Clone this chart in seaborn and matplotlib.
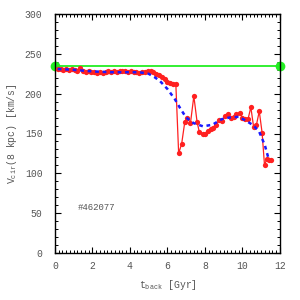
import numpy as np
import pandas as pd
import matplotlib
matplotlib.use("Agg")
import matplotlib.pyplot as plt
import seaborn as sns
from matplotlib.ticker import MultipleLocator

# measured circular velocity at 8 kpc vs lookback time
t_back = [0.15, 0.3, 0.45, 0.6, 0.75, 0.9, 1.05, 1.2, 1.35, 1.5, 1.65, 1.8, 1.95,
          2.1, 2.25, 2.4, 2.55, 2.7, 2.85, 3.0, 3.15, 3.3, 3.45, 3.6, 3.75, 3.9,
          4.05, 4.2, 4.35, 4.5, 4.65, 4.8, 4.95, 5.1, 5.25, 5.4, 5.55, 5.7, 5.85,
          6.0, 6.15, 6.3, 6.45, 6.6, 6.76, 6.93, 7.07, 7.23, 7.41, 7.58, 7.7,
          7.88, 8.0, 8.15, 8.3, 8.44, 8.6, 8.77, 8.92, 9.08, 9.22, 9.38, 9.53,
          9.68, 9.85, 10.0, 10.15, 10.3, 10.45, 10.6, 10.75, 10.9, 11.05, 11.18,
          11.3, 11.42, 11.52]
v_cir = [231, 231, 230, 231, 230, 231, 230, 229, 232, 229, 227, 228, 227,
         227, 226, 227, 226, 227, 228, 227, 228, 227, 229, 228, 228, 227,
         228, 227, 227, 226, 227, 227, 228, 228, 227, 225, 223, 221, 218,
         215, 213, 212, 212, 125, 137, 165, 170, 163, 197, 165, 152,
         149, 150, 153, 156, 157, 161, 167, 166, 172, 174, 170, 171,
         174, 176, 170, 168, 168, 183, 158, 161, 178, 151, 110,
         118, 117, 117]

# smoothed curve
t_smooth = [0.15, 1.0, 2.0, 3.0, 4.0, 4.5, 5.0, 5.3, 5.6, 6.0, 6.4, 6.7, 7.0,
            7.4, 7.9, 8.4, 8.9, 9.3, 9.8, 10.2, 10.6, 10.9, 11.2, 11.4]
v_smooth = [231, 230, 228, 227, 227, 227, 225, 221, 216, 206, 193, 181, 170,
            163, 159, 161, 168, 170, 171, 166, 160, 152, 135, 118]

# present-day reference value
t_ref = [0, 12]
v_ref = [235, 235]

meas = pd.DataFrame({"t": t_back, "v": v_cir})
smooth = pd.DataFrame({"t": t_smooth, "v": v_smooth})
ref = pd.DataFrame({"t": t_ref, "v": v_ref})

sns.set_style("ticks")
plt.rcParams["font.family"] = ["Liberation Mono", "DejaVu Sans Mono"]
plt.rcParams["mathtext.fontset"] = "custom"
plt.rcParams["mathtext.rm"] = "Liberation Mono"
plt.rcParams["mathtext.it"] = "Liberation Mono"

fig = plt.figure(figsize=(3, 3), dpi=100)
ax = fig.add_axes([0.183, 0.157, 0.75, 0.796])

sns.lineplot(data=ref, x="t", y="v", ax=ax, color="#22ee22", lw=1.3,
             marker="o", markersize=7, markeredgewidth=0, clip_on=False,
             estimator=None, sort=False, zorder=2)
sns.lineplot(data=meas, x="t", y="v", ax=ax, color="#ff2020", lw=0.9,
             marker="o", markersize=3.8, markeredgewidth=0,
             estimator=None, sort=False, zorder=3)
sns.lineplot(data=smooth, x="t", y="v", ax=ax, color="#1a1aff", lw=1.8,
             linestyle=(0, (1.5, 1.5)), estimator=None, sort=False, zorder=4)

ax.text(0.10, 0.19, "#462077", transform=ax.transAxes, fontsize=6.5,
        color="#555555", va="center", ha="left")

ax.set_xlim(0, 12)
ax.set_ylim(0, 300)
ax.xaxis.set_major_locator(MultipleLocator(2))
ax.xaxis.set_minor_locator(MultipleLocator(0.2))
ax.yaxis.set_major_locator(MultipleLocator(50))
ax.yaxis.set_minor_locator(MultipleLocator(10))
ax.tick_params(which="both", direction="in", top=True, right=True,
               colors="black", labelcolor="#555555", labelsize=7)
ax.tick_params(axis="x", pad=6)
ax.tick_params(axis="y", pad=9)
ax.tick_params(which="major", length=4.5, width=0.8)
ax.tick_params(which="minor", length=2.2, width=0.7)
for s in ax.spines.values():
    s.set_linewidth(1.0)
    s.set_color("black")

ax.set_xlabel(r"t$_{\rm back}$ [Gyr]", fontsize=7, color="#555555", labelpad=5)
ax.set_ylabel(r"V$_{\rm cir}$(8 kpc) [km/s]", fontsize=7, color="#555555",
              labelpad=4)

fig.savefig("out.png", dpi=100)
